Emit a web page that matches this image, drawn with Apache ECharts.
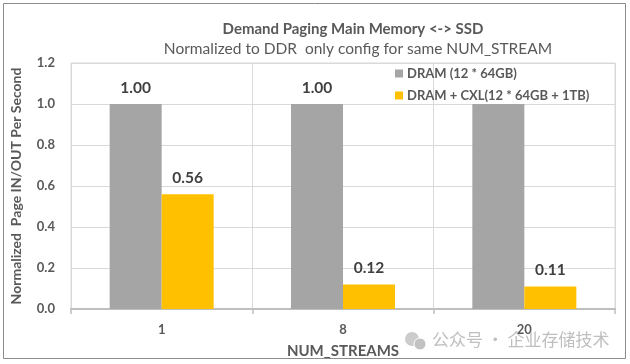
<!DOCTYPE html>
<html>
<head>
<meta charset="utf-8">
<script src="https://cdn.jsdelivr.net/npm/echarts@6/dist/echarts.min.js"></script>
<style>
html,body{margin:0;padding:0;background:#fff;}
#chart{width:630px;height:364px;}
</style>
</head>
<body>
<div id="chart"></div>
<script>
var categories = ['1', '8', '20'];
var seriesNames = ['DRAM (12 * 64GB)', 'DRAM + CXL(12 * 64GB + 1TB)'];
var dramValues = [1.00, 1.00, 1.00];
var cxlValues = [0.56, 0.12, 0.11];
var dramLabelShown = [true, true, false];

var FONT = 'Lato, "Noto Sans", sans-serif';
var chart = echarts.init(document.getElementById('chart'), null, {renderer: 'canvas'});
function labelStyle(showFlags) {
  return {
    show: true, position: 'top', distance: 8,
    formatter: function (p) {
      if (showFlags && !showFlags[p.dataIndex]) return '';
      return p.value.toFixed(2);
    },
    fontFamily: FONT, fontSize: 15.5, fontWeight: 'bold', color: '#404040'
  };
}
chart.setOption({
  animation: false,
  backgroundColor: '#fff',
  title: [{
    text: 'Demand Paging Main Memory <-> SSD',
    left: 348, top: 17, textAlign: 'center',
    textStyle: {fontFamily: FONT, fontSize: 15, fontWeight: 'bold', color: '#595959'}
  }, {
    text: 'Normalized to DDR  only config for same NUM_STREAM',
    left: 353, top: 36, textAlign: 'center',
    textStyle: {fontFamily: FONT, fontSize: 15.5, fontWeight: 'normal', color: '#595959'}
  }],
  legend: {
    orient: 'vertical', left: 390, top: 62, itemGap: 9,
    itemWidth: 8, itemHeight: 8, icon: 'rect',
    textStyle: {fontFamily: FONT, fontSize: 13, fontWeight: 'bold', color: '#595959', padding: [0, 0, 0, -1]},
    data: seriesNames
  },
  grid: {
    left: 71, right: 15, top: 63, bottom: 53,
    show: true, borderColor: '#D9D9D9', borderWidth: 1
  },
  xAxis: {
    type: 'category', data: categories,
    name: 'NUM_STREAMS', nameLocation: 'middle', nameGap: 35,
    nameTextStyle: {fontFamily: FONT, fontSize: 15, fontWeight: 'bold', color: '#595959'},
    axisLine: {lineStyle: {color: '#BFBFBF', width: 2}},
    axisTick: {show: true, length: 5, lineStyle: {color: '#BFBFBF', width: 1.5}},
    axisLabel: {fontFamily: FONT, fontSize: 13, fontWeight: 'bold', color: '#595959', margin: 14},
    splitLine: {show: true, lineStyle: {color: '#D9D9D9'}}
  },
  yAxis: {
    type: 'value', min: 0, max: 1.2, interval: 0.2,
    name: 'Normalized  Page IN/OUT Per Second', nameLocation: 'middle', nameGap: 48,
    nameTextStyle: {fontFamily: FONT, fontSize: 14, fontWeight: 'bold', color: '#595959'},
    axisLine: {show: false}, axisTick: {show: false},
    axisLabel: {fontFamily: FONT, fontSize: 13, fontWeight: 'bold', color: '#595959', margin: 16,
      formatter: function (v) { return v.toFixed(1); }},
    splitLine: {lineStyle: {color: '#D9D9D9'}}
  },
  series: [{
    name: seriesNames[0], type: 'bar', data: dramValues,
    barWidth: 52, barGap: '0%',
    itemStyle: {color: '#A5A5A5'}, label: labelStyle(dramLabelShown)
  }, {
    name: seriesNames[1], type: 'bar', data: cxlValues,
    barWidth: 52, barGap: '0%',
    itemStyle: {color: '#FFC000'}, label: labelStyle(null)
  }],
  graphic: [{
    type: 'rect', shape: {x: 3.5, y: 3.5, width: 622, height: 355},
    style: {fill: 'none', stroke: '#8C8C8C', lineWidth: 1}, silent: true, z: 100
  }, {
    type: 'circle', shape: {cx: 412, cy: 339, r: 7}, style: {fill: '#CCCCCC'}, z: 100
  }, {
    type: 'circle', shape: {cx: 420, cy: 344, r: 6}, style: {fill: '#C2C2C2', stroke: '#fff', lineWidth: 1}, z: 100
  }, {
    type: 'text', left: 432, top: 331,
    style: {text: '公众号 · 企业存储技术', fill: 'rgba(170,170,170,0.75)',
      font: '17px "Noto Sans CJK SC", sans-serif'}, z: 100
  }]
});
</script>
</body>
</html>
